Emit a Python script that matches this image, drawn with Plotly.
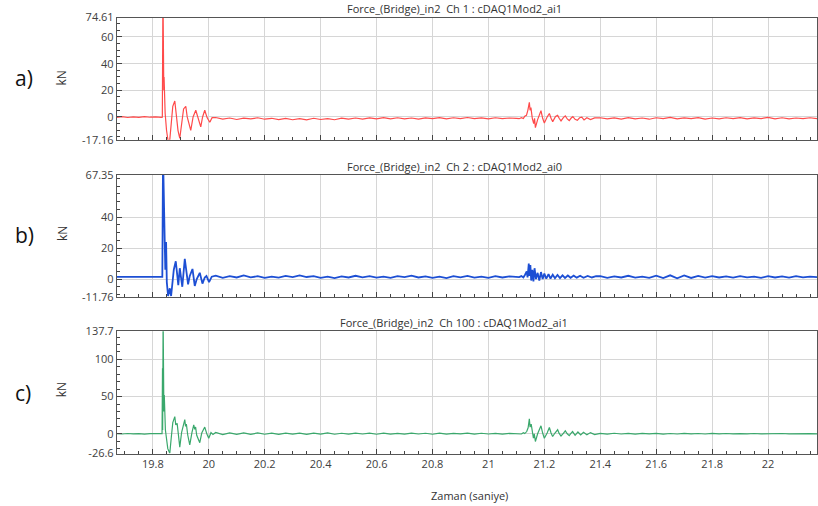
import plotly.graph_objects as go

W, H = 818, 506

# ---------------- data ----------------
titles = ["Force_(Bridge)_in2  Ch 1 : cDAQ1Mod2_ai1",
          "Force_(Bridge)_in2  Ch 2 : cDAQ1Mod2_ai0",
          "Force_(Bridge)_in2  Ch 100 : cDAQ1Mod2_ai1"]
panel_labels = ["a)", "b)", "c)"]
x_title = "Zaman (saniye)"
y_title = "kN"
x_range = [19.6714, 22.175]

yticks_a = [-17.16, 0, 20, 40, 60, 74.61]
yticks_b = [-11.76, 0, 20, 40, 67.35]
yticks_c = [-26.6, 0, 50, 100, 137.7]

t_pre = [19.671, 19.69, 19.71, 19.73, 19.75, 19.77, 19.79, 19.81, 19.83]
t_quiet1 = [20.025, 20.05, 20.075, 20.1, 20.125, 20.15, 20.175, 20.2, 20.225, 20.25,
            20.275, 20.3, 20.325, 20.35, 20.375, 20.4, 20.425, 20.45, 20.475, 20.5,
            20.525, 20.55, 20.575, 20.6, 20.625, 20.65, 20.675, 20.7, 20.725, 20.75,
            20.775, 20.8, 20.825, 20.85, 20.875, 20.9, 20.925, 20.95, 20.975, 21.0,
            21.025, 21.05, 21.075, 21.1]
t_quiet2 = [21.4, 21.425, 21.45, 21.475, 21.5, 21.525, 21.55, 21.575, 21.6, 21.625,
            21.65, 21.675, 21.7, 21.725, 21.75, 21.775, 21.8, 21.825, 21.85, 21.875,
            21.9, 21.925, 21.95, 21.975, 22.0, 22.025, 22.05, 22.075, 22.1, 22.125,
            22.15, 22.175]

# --- Ch 1 (red)
a_pre = [-0.3, 0.2, -0.4, 0.1, -0.3, 0.3, -0.2, 0.1, -0.3]
a_imp_t = [19.834, 19.8362, 19.8372, 19.8382, 19.8392, 19.8402, 19.8415, 19.844, 19.849, 19.8545,
           19.8607, 19.866, 19.8714, 19.8786, 19.884, 19.89, 19.8964, 19.903, 19.91, 19.9179,
           19.923, 19.9357, 19.944, 19.9536, 19.962, 19.9714, 19.978, 19.9857, 19.994, 20.0036,
           20.012]
a_imp_v = [-0.2, 95, 40, 36, 20, 30, 15, 3, -10, -18,
           -17, -3, 8, 12, 2, -10, -16, -4, 6, 8,
           0, -10, 0, 5, -1, -7.5, 0, 5, -0.5, -4,
           -0.5]
a_q1 = [-0.4, -1.6, -0.8, -1.9, -0.9, -1.5, -0.6, -1.7, -1.0, -2.0,
        -1.1, -2.1, -1.2, -2.2, -1.0, -1.9, -1.3, -2.1, -0.9, -1.7,
        -0.8, -1.6, -0.7, -1.5, -0.5, -1.4, -0.6, -1.5, -0.8, -1.6,
        -0.7, -1.3, -0.5, -1.4, -0.6, -1.2, -0.4, -1.3, -0.7, -1.5,
        -0.6, -1.2, -0.8, -1.1]
a_ev_t = [21.11, 21.118, 21.125, 21.13, 21.136, 21.141, 21.1464, 21.149, 21.152, 21.157,
          21.162, 21.165, 21.168, 21.176, 21.188, 21.194, 21.2, 21.21, 21.218, 21.224,
          21.23, 21.24, 21.2476, 21.253, 21.2596, 21.268, 21.275, 21.282, 21.289, 21.296,
          21.302, 21.31, 21.318, 21.326, 21.334, 21.342, 21.352, 21.365, 21.38]
a_ev_v = [-1.3, -0.6, -1.2, 0.5, 1.2, 5, 11, 5, 7, -1,
          -5, -1, -8, -2, 4.7, -1, -4.5, 0, 2.6, -1,
          -3.5, 0.3, 1.2, -1, -3, -0.5, 0.8, -1.5, -2.7, -0.8,
          0.2, -1.8, -2.5, -0.6, -0.2, -2.2, -0.6, -1.9, -0.7]
a_q2 = [-0.6, -1.5, -0.7, -1.6, -0.5, -1.4, -0.8, -1.7, -0.6, -1.3,
        -0.4, -1.5, -0.7, -1.2, -0.5, -1.6, -0.8, -1.4, -0.6, -1.3,
        -0.5, -1.5, -0.7, -1.2, -0.4, -1.4, -0.6, -1.5, -0.8, -1.3,
        -0.6, -1.2]

# --- Ch 2 (blue)
b_pre = [1.4, 1.4, 1.5, 1.4, 1.4, 1.5, 1.4, 1.4, 1.4]
b_imp_t = [19.834, 19.8365, 19.8411, 19.8446, 19.8475, 19.85, 19.8546, 19.8607, 19.8654, 19.8714,
           19.875, 19.8821, 19.8875, 19.8911, 19.8964, 19.9018, 19.9054, 19.9143, 19.9196, 19.9261,
           19.9321, 19.9418, 19.95, 19.9571, 19.9679, 19.9775, 19.9857, 19.9918, 20.0011, 20.0107]
b_imp_v = [1.4, 80, 26, 6, 24, -2, -11, -6, -11, 2,
           6, 11.5, 3, -4, 7, 0, -5, 13, 5, -3.5,
           2, 6.5, -4.5, 0, 4, -3, 1, 2, -2, 1.5]
b_q1 = [2.2, 0.8, 1.9, 1.0, 2.3, 1.1, 1.8, 0.7, 1.6, 0.9,
        2.0, 1.2, 2.4, 1.3, 1.9, 0.8, 1.5, 0.6, 1.7, 1.0,
        2.1, 1.1, 1.8, 0.9, 1.6, 0.7, 1.9, 1.2, 2.2, 1.0,
        1.7, 0.8, 1.5, 0.6, 1.8, 1.1, 2.0, 0.9, 1.6, 0.7,
        1.9, 1.0, 1.7, 1.2]
b_ev_t = [21.11, 21.118, 21.125, 21.131, 21.137, 21.14, 21.1444, 21.147, 21.15, 21.153,
          21.157, 21.161, 21.165, 21.17, 21.176, 21.182, 21.188, 21.194, 21.2, 21.207,
          21.215, 21.222, 21.23, 21.238, 21.247, 21.256, 21.265, 21.274, 21.284, 21.294,
          21.305, 21.316, 21.328, 21.34, 21.355, 21.37, 21.385]
b_ev_v = [1.2, 1.9, 1.0, 2.8, 5, 1, 10, 2, 9, -1,
          6, -1.5, 7, 0, 4, -1, 4.5, 0, 3.5, 0.2,
          3.2, 0.3, 2.8, 0.5, 2.6, 0.6, 2.4, 0.7, 2.3, 0.8,
          2.2, 0.9, 2.1, 0.8, 2.0, 1.0, 1.8]
b_q2 = [1.9, 0.8, 1.7, 1.0, 2.1, 0.9, 1.6, 0.7, 2.2, 0.6,
        2.4, 0.5, 2.3, 0.7, 2.0, 0.9, 1.8, 1.0, 1.7, 0.9,
        1.9, 1.1, 1.6, 0.8, 1.8, 1.0, 1.7, 0.9, 1.9, 1.1,
        1.6, 1.2]

# --- Ch 100 (green)
c_pre = [0.2, -0.3, 0.4, -0.2, 0.3, -0.4, 0.2, -0.1, 0.2]
c_imp_t = [19.833, 19.8346, 19.8352, 19.8368, 19.8382, 19.8395, 19.841, 19.8425, 19.845, 19.8535,
           19.8607, 19.866, 19.8714, 19.8786, 19.8821, 19.887, 19.893, 19.8964, 19.903, 19.9143,
           19.917, 19.92, 19.925, 19.9321, 19.94, 19.9464, 19.95, 19.953, 19.957, 19.9679,
           19.975, 19.9857, 19.993, 20.0, 20.008, 20.015]
c_imp_v = [0.1, 88, 5, 160, 50, 30, 52, 20, 5, -20,
           -26, -5, 15, 23, 12, 14, -2, -18, 2, 19,
           10, 13, -2, -15, 2, 12, 6, 9, -2, -12,
           1, 9, 0, -6, 1.5, -1]
c_q1 = [1.8, -1.2, 1.3, -0.8, 1.1, -0.9, 1.2, -0.6, 0.9, -0.7,
        1.0, -0.5, 0.8, -0.8, 0.9, -0.4, 1.1, -0.6, 0.7, -0.5,
        0.9, -0.3, 0.8, -0.6, 1.0, -0.4, 0.6, -0.5, 0.8, -0.3,
        0.7, -0.6, 0.9, -0.4, 0.6, -0.2, 0.8, -0.5, 0.7, -0.3,
        0.6, -0.4, 0.5, -0.2]
c_ev_t = [21.11, 21.118, 21.125, 21.13, 21.137, 21.142, 21.1464, 21.149, 21.153, 21.157,
          21.161, 21.164, 21.168, 21.176, 21.188, 21.194, 21.2, 21.21, 21.218, 21.224,
          21.2297, 21.238, 21.2476, 21.253, 21.2596, 21.268, 21.275, 21.282, 21.289, 21.295,
          21.301, 21.31, 21.32, 21.33, 21.34, 21.352, 21.365, 21.38]
c_ev_v = [0.3, -0.3, 1.5, 0.3, 3, 8, 20, 9, 13, 2,
          -6, 0, -10.4, 0, 10.7, 1, -6, 1, 8.5, 1,
          -3.6, 1, 5.4, 0.5, -3, 0.5, 4, 0, -2.5, 0.5,
          3, -2, 2.4, -1.6, 2, -1.3, 1.6, -1]
c_q2 = [0.6, -0.5, 0.7, -0.3, 0.5, -0.4, 0.6, -0.2, 0.5, -0.4,
        0.4, -0.3, 0.6, -0.2, 0.4, -0.3, 0.5, -0.1, 0.4, -0.2,
        0.3, -0.2, 0.4, -0.1, 0.3, -0.2, 0.4, 0.0, 0.3, -0.1,
        0.2, 0.0]

colors = ["#ff4a4a", "#1d4fd4", "#3aa86c"]
widths = [1.2, 1.8, 1.2]

# ---------------- assemble ----------------
series_t = [t_pre + a_imp_t + t_quiet1 + a_ev_t + t_quiet2,
            t_pre + b_imp_t + t_quiet1 + b_ev_t + t_quiet2,
            t_pre + c_imp_t + t_quiet1 + c_ev_t + t_quiet2]
series_v = [a_pre + a_imp_v + a_q1 + a_ev_v + a_q2,
            b_pre + b_imp_v + b_q1 + b_ev_v + b_q2,
            c_pre + c_imp_v + c_q1 + c_ev_v + c_q2]
yticks = [yticks_a, yticks_b, yticks_c]
minor_dt = [5, 5, 10]


def py(p):
    # the photographed page maps figure pixel y to 7.5 + 0.968*y; invert that
    return 1 - ((p - 7.5) / 0.968) / H


def px(p):
    return p / W


panel_px = [(17, 139), (174, 296), (330, 452)]
title_y = [8, 165.5, 321.5]
kn_y = [77, 232, 388]
lab_y = [77, 234, 392]

fig = go.Figure()
font_fam = "Open Sans"
layout = dict(width=W, height=H, margin=dict(l=0, r=0, t=0, b=0),
              paper_bgcolor="white", plot_bgcolor="white", showlegend=False,
              font=dict(family=font_fam, size=11, color="#404040"))

annotations = []
for i in range(3):
    sx = "" if i == 0 else str(i + 1)
    fig.add_trace(go.Scatter(x=series_t[i], y=series_v[i], mode="lines",
                             line=dict(color=colors[i], width=widths[i]),
                             xaxis="x" + sx, yaxis="y" + sx, hoverinfo="skip"))
    top, bot = panel_px[i]
    layout["xaxis" + sx] = dict(
        domain=[px(117), 1.0], range=x_range, anchor="y" + sx,
        tickmode="linear", tick0=19.8, dtick=0.2,
        showticklabels=(i == 2), ticks="inside", ticklen=5, tickcolor="#444",
        showline=True, linecolor="#555", linewidth=1, mirror=True,
        showgrid=True, gridcolor="#d6d6d6", gridwidth=1, zeroline=False,
        tickfont=dict(size=11, color="#404040"),
        minor=dict(ticks="inside", ticklen=3, tickcolor="#444", tick0=19.8, dtick=0.05, showgrid=False),
    )
    yt = yticks[i]
    layout["yaxis" + sx] = dict(
        domain=[py(bot), py(top)], range=[yt[0], yt[-1]], anchor="x" + sx,
        tickmode="array", tickvals=yt, ticktext=[("%g" % v) for v in yt],
        ticks="inside", ticklen=5, tickcolor="#444",
        showline=True, linecolor="#555", linewidth=1, mirror=True,
        showgrid=True, gridcolor="#d6d6d6", gridwidth=1, zeroline=False,
        tickfont=dict(size=11, color="#404040"),
        minor=dict(ticks="inside", ticklen=3, tickcolor="#444", tick0=0, dtick=minor_dt[i], showgrid=False),
    )
    annotations.append(dict(text=titles[i], x=px(455), y=py(title_y[i]), xref="paper", yref="paper",
                            showarrow=False, xanchor="center", yanchor="middle",
                            font=dict(size=11, color="#333333")))
    annotations.append(dict(text=y_title, x=px(62), y=py(kn_y[i]), xref="paper", yref="paper",
                            showarrow=False, xanchor="center", yanchor="middle", textangle=-90,
                            font=dict(size=12, color="#333333")))
    annotations.append(dict(text=panel_labels[i], x=px(13), y=py(lab_y[i]), xref="paper", yref="paper",
                            showarrow=False, xanchor="left", yanchor="middle",
                            font=dict(size=21, color="#111111")))

annotations.append(dict(text=x_title, x=px(470), y=py(494), xref="paper", yref="paper",
                        showarrow=False, xanchor="center", yanchor="middle",
                        font=dict(size=11, color="#333333")))
layout["annotations"] = annotations
fig.update_layout(**layout)
fig.write_html("out.html")
